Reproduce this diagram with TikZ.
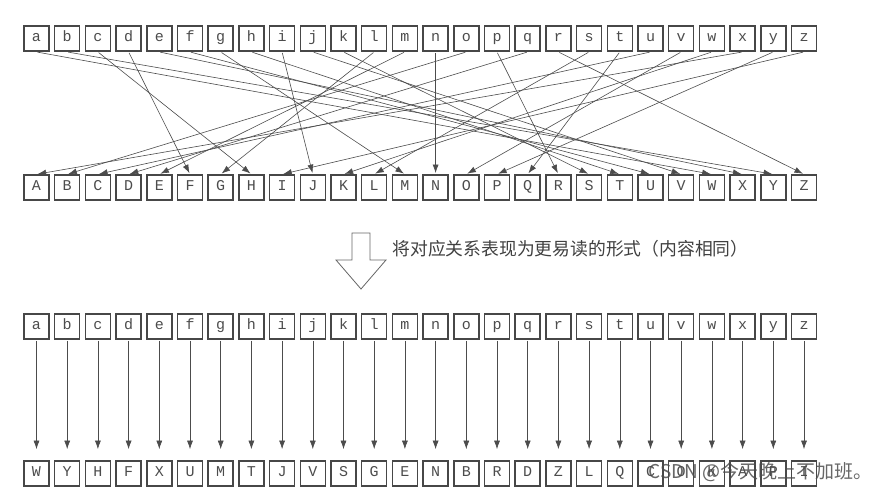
\documentclass[tikz,border=0pt]{standalone}
\usepackage{fontspec}
\usetikzlibrary{arrows.meta}
\newfontfamily\lettrfont{Liberation Mono}
\newfontfamily\cjkfont{Noto Sans CJK SC}

\begin{document}
\begin{tikzpicture}[
    x=1pt, y=-1pt,
    box/.style={rectangle, draw=black!72, line width=1.5pt,
      minimum width=25pt, minimum height=25pt, inner sep=0pt, text height=8pt, text depth=2.5pt,
      text=black!70, font=\lettrfont\fontsize{15}{15}\selectfont},
    arrow/.style={-{Latex[length=8.5pt,width=6pt]}, draw=black!70, line width=0.6pt, shorten <=1pt, shorten >=1.2pt},
    hollow/.style={draw=black!60, line width=0.8pt, fill=white}
  ]
    \useasboundingbox (0,0) rectangle (884,496);

    % original letters and their substitutes
    \foreach \p [count=\i from 0] in {a,...,z}
      \node[box] (p1-\p) at (36.5+30.7*\i, 38.7) {\p};
    \foreach \c [count=\i from 0] in {A,...,Z}
      \node[box] (c1-\c) at (36.5+30.7*\i, 187.5) {\c};
    \foreach \p/\c in {a/W, b/Y, c/H, d/F, e/X, f/U, g/M, h/T, i/J, j/V, k/S, l/G, m/E,
                       n/N, o/B, p/R, q/D, r/Z, s/L, t/Q, u/C, v/O, w/K, x/A, y/P, z/I}
      \draw[arrow] (p1-\p.south) -- (c1-\c.north);

    % hollow arrow and caption
    \draw[hollow] (352,233) -- (370,233) -- (370,260) -- (386,260) -- (361,289)
      -- (336,260) -- (352,260) -- cycle;
    \node[anchor=west, text=black!75, font=\cjkfont\fontsize{17.8}{20}\selectfont] (note) at (389,249)
      {将对应关系表现为更易读的形式（内容相同）};

    % same mapping, easier to read
    \foreach \p/\c [count=\i from 0] in {a/W, b/Y, c/H, d/F, e/X, f/U, g/M, h/T, i/J, j/V, k/S, l/G, m/E,
                       n/N, o/B, p/R, q/D, r/Z, s/L, t/Q, u/C, v/O, w/K, x/A, y/P, z/I} {
      \node[box] (p2-\p) at (36.5+30.7*\i, 326.7) {\p};
      \node[box] (c2-\p) at (36.5+30.7*\i, 473.4) {\c};
      \draw[arrow, shorten >=11pt] (p2-\p.south) -- (c2-\p.north);
    }

    \node[anchor=east, text=black!70, text opacity=0.85, font=\cjkfont\fontsize{19}{20}\selectfont] (mark) at (876,472)
      {CSDN @今天晚上不加班。};
  \end{tikzpicture}
\end{document}
